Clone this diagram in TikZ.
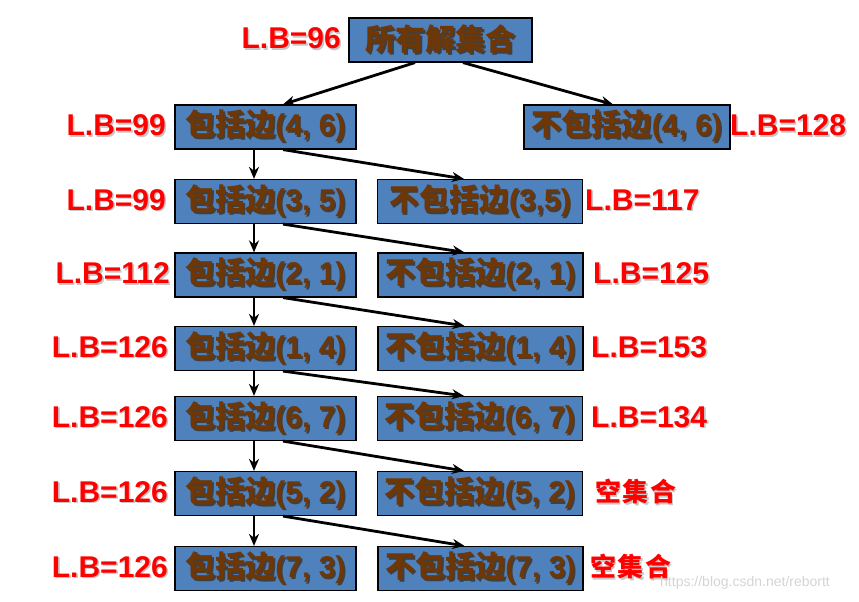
\documentclass[tikz,border=0pt]{standalone}
\usepackage{fontspec}
\setmainfont{Liberation Sans}
\newfontfamily\cjkf{Noto Sans CJK SC}
\usetikzlibrary{arrows.meta}
\definecolor{boxblue}{RGB}{79,129,189}
\definecolor{txtbrown}{RGB}{110,55,5}
\definecolor{lbred}{RGB}{255,0,0}
\newcommand\shtxt[2]{\rlap{\kern1.6pt\raisebox{-1.6pt}{\color{#1}#2}}#2}
\newcommand\bx[1]{\shtxt{black!75}{#1}}
\newcommand\lb[1]{\shtxt{black!22}{#1}}
\newcommand\cj[1]{{\cjkf\addfontfeature{LetterSpace=6}#1}}
\begin{document}
\begin{tikzpicture}[x=1pt,y=-1pt,
  box/.style={draw=black, line width=1.2pt, fill=boxblue, minimum height=44pt,
    inner sep=0pt, text=txtbrown, font=\fontsize{30}{32}\selectfont\bfseries},
  lbox/.style={box, minimum width=181pt},
  rbox/.style={box, minimum width=205pt},
  lbl/.style={inner sep=0pt, text=lbred, font=\fontsize{30}{32}\selectfont\bfseries},
  arr/.style={line width=2.8pt, -{Stealth[length=12pt,width=10pt]}}]
\useasboundingbox (0,0) rectangle (859,602);

% boxes
\node[box, minimum width=183pt] (root) at (440.5,40) {\bx{{\cjkf 所有解集合}}};
\node[lbox] (L1) at (265.5,127)   {\bx{{\cjkf 包括边}(4, 6)}};
\node[lbox] (L2) at (265.5,201.5) {\bx{{\cjkf 包括边}(3, 5)}};
\node[lbox] (L3) at (265.5,275)   {\bx{{\cjkf 包括边}(2, 1)}};
\node[lbox] (L4) at (265.5,348.5) {\bx{{\cjkf 包括边}(1, 4)}};
\node[lbox] (L5) at (265.5,418.5) {\bx{{\cjkf 包括边}(6, 7)}};
\node[lbox] (L6) at (265.5,493.5) {\bx{{\cjkf 包括边}(5, 2)}};
\node[lbox] (L7) at (265.5,568.5) {\bx{{\cjkf 包括边}(7, 3)}};

\node[box, minimum width=206pt] (R1) at (627,127) {\bx{{\cjkf 不包括边}(4, 6)}};
\node[rbox] (R2) at (480,201.5) {\bx{{\cjkf 不包括边}(3,5)}};
\node[rbox] (R3) at (480.5,275)   {\bx{{\cjkf 不包括边}(2, 1)}};
\node[rbox] (R4) at (480.5,348.5) {\bx{{\cjkf 不包括边}(1, 4)}};
\node[rbox] (R5) at (480,418.5) {\bx{{\cjkf 不包括边}(6, 7)}};
\node[rbox] (R6) at (480,493.5) {\bx{{\cjkf 不包括边}(5, 2)}};
\node[rbox] (R7) at (480.5,568.5) {\bx{{\cjkf 不包括边}(7, 3)}};

% labels
\node[lbl, anchor=east] (lb0) at (341,39) {\lb{L.B=96}};
\node[lbl, anchor=east] (lbL1) at (166,126) {\lb{L.B=99}};
\node[lbl, anchor=east] (lbL2) at (166,200.5) {\lb{L.B=99}};
\node[lbl, anchor=east] (lbL3) at (170,274) {\lb{L.B=112}};
\node[lbl, anchor=east] (lbL4) at (168,347.5) {\lb{L.B=126}};
\node[lbl, anchor=east] (lbL5) at (168,417.5) {\lb{L.B=126}};
\node[lbl, anchor=east] (lbL6) at (168,492.5) {\lb{L.B=126}};
\node[lbl, anchor=east] (lbL7) at (168,567.5) {\lb{L.B=126}};

\node[lbl, anchor=west] (lbR1) at (730,126) {\lb{L.B=128}};
\node[lbl, anchor=west] (lbR2) at (585,200.5) {\lb{L.B=117}};
\node[lbl, anchor=west] (lbR3) at (593,274) {\lb{L.B=125}};
\node[lbl, anchor=west] (lbR4) at (591,347.5) {\lb{L.B=153}};
\node[lbl, anchor=west] (lbR5) at (591,417.5) {\lb{L.B=134}};
\node[lbl, anchor=west, font=\fontsize{26}{30}\selectfont\bfseries] (lbR6) at (595,492.5) {\lb{\cj{空集合}}};
\node[lbl, anchor=west, font=\fontsize{26}{30}\selectfont\bfseries] (lbR7) at (590,567.5) {\lb{\cj{空集合}}};

% watermark
\node[anchor=south west, inner sep=0pt, text=black!17, font=\fontsize{14}{16}\selectfont] (wm) at (660,590) {https://blog.csdn.net/rebortt};

% connectors
\draw[arr] ([xshift=-25.5pt]root.south) -- ([xshift=17.5pt]L1.north);
\draw[arr] ([xshift=22.5pt]root.south) -- ([xshift=-14pt]R1.north);
\foreach \i/\j in {1/2,2/3,3/4,4/5,5/6,6/7}{
  \draw[arr] ([xshift=-11.5pt]L\i.south) -- ([xshift=-11.5pt]L\j.north);
  \draw[arr] ([xshift=17.5pt]L\i.south) -- ([xshift=-16pt]R\j.north);
}
\end{tikzpicture}
\end{document}
